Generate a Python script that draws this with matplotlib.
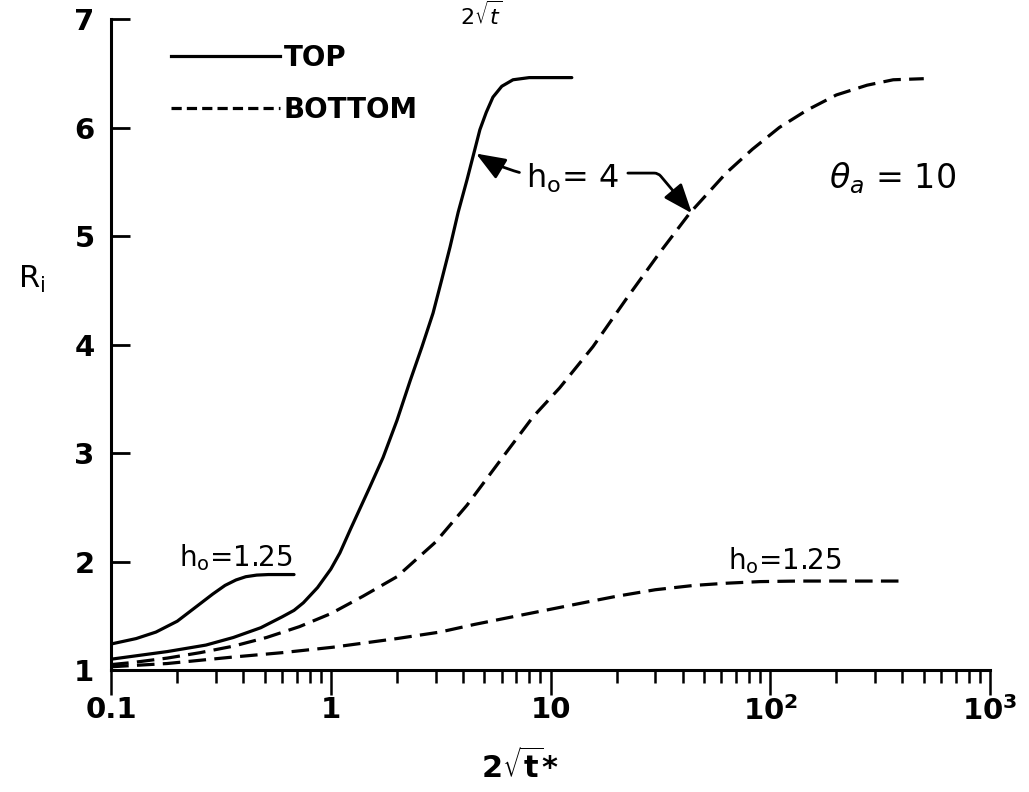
import numpy as np
import matplotlib
matplotlib.use("Agg")
import matplotlib.pyplot as plt
from matplotlib.lines import Line2D
import matplotlib.ticker as mticker

# ── Data ─────────────────────────────────────────────────────────────────────

# TOP surface, h_o = 1.25
top_125_x = [0.1, 0.13, 0.16, 0.2, 0.25, 0.29, 0.33, 0.37, 0.41, 0.46, 0.52, 0.6, 0.68]
top_125_r = [1.24, 1.29, 1.35, 1.45, 1.60, 1.70, 1.78, 1.83, 1.86, 1.875, 1.88, 1.88, 1.88]

# TOP surface, h_o = 4
top_4_x = [0.1, 0.18, 0.27, 0.36, 0.48, 0.6, 0.68, 0.75, 0.87, 1.0, 1.1, 1.23, 1.5, 1.73,
           2.0, 2.3, 2.6, 2.92, 3.2, 3.49, 3.8, 4.17, 4.5, 4.77, 5.1, 5.47,
           6.0, 6.75, 8.0, 12.5]
top_4_r = [1.10, 1.17, 1.23, 1.30, 1.39, 1.49, 1.55, 1.62, 1.76, 1.93, 2.08, 2.30, 2.68, 2.96,
           3.30, 3.67, 3.98, 4.29, 4.60, 4.90, 5.22, 5.52, 5.78, 5.98, 6.14, 6.28,
           6.38, 6.44, 6.46, 6.46]

# BOTTOM surface, h_o = 4
bot_4_x = [0.1, 0.126, 0.18, 0.254, 0.36, 0.51, 0.72, 1.0, 1.4, 2.0, 3.0, 4.17,
           6.0, 8.3, 11.0, 15.6, 22.3, 31.5, 43.0, 63.0, 83.0, 110.0, 147.0,
           200.0, 276.0, 363.0, 500.0]
bot_4_r = [1.05, 1.07, 1.11, 1.16, 1.22, 1.30, 1.40, 1.52, 1.68, 1.86, 2.18, 2.52,
           2.95, 3.33, 3.60, 3.98, 4.43, 4.85, 5.21, 5.58, 5.80, 6.00, 6.16,
           6.30, 6.39, 6.44, 6.45]

# BOTTOM surface, h_o = 1.25
bot_125_x = [0.1, 0.18, 0.36, 0.6, 1.02, 2.0, 3.14, 4.5, 6.7, 10.0, 14.1, 20.0,
             30.0, 45.0, 63.0, 90.0, 134.0, 200.0, 300.0, 410.0]
bot_125_r = [1.03, 1.06, 1.12, 1.16, 1.21, 1.29, 1.35, 1.42, 1.49, 1.56, 1.62, 1.68,
             1.74, 1.78, 1.80, 1.815, 1.82, 1.82, 1.82, 1.82]

x_ticks = [0.1, 1, 10, 100, 1000]
x_tick_labels = ["0.1", "1", "10", r"$\mathbf{10^2}$", r"$\mathbf{10^3}$"]
y_ticks = [1, 2, 3, 4, 5, 6, 7]

# arrow targets for the h_o = 4 label
tip_top_4 = (4.58, 5.76)
tip_bot_4 = (44.0, 5.21)

# ── Figure ───────────────────────────────────────────────────────────────────

plt.rcParams["font.family"] = "DejaVu Sans"
plt.rcParams["mathtext.fontset"] = "dejavusans"

fig = plt.figure(figsize=(10.29, 7.92), dpi=100)
ax = fig.add_axes([0.108, 0.154, 0.854, 0.822])

LW = 2.3
DASH = (5.5, 2.6)

ax.plot(top_125_x, top_125_r, color="black", lw=LW, solid_capstyle="round")
ax.plot(top_4_x, top_4_r, color="black", lw=LW, solid_capstyle="round")
ax.plot(bot_4_x, bot_4_r, color="black", lw=LW, dashes=DASH)
ax.plot(bot_125_x, bot_125_r, color="black", lw=LW, dashes=DASH)

ax.set_xscale("log")
ax.set_xlim(0.1, 1000)
ax.set_ylim(1, 7)

for side in ("top", "right"):
    ax.spines[side].set_visible(False)
for side in ("left", "bottom"):
    ax.spines[side].set_linewidth(2.2)

ax.set_xticks(x_ticks)
ax.xaxis.set_major_formatter(mticker.FixedFormatter(x_tick_labels))
ax.xaxis.set_minor_locator(mticker.LogLocator(base=10, subs=np.arange(2, 10)))
ax.xaxis.set_minor_formatter(mticker.NullFormatter())
ax.tick_params(axis="x", which="major", direction="out", length=18, width=1.8,
               pad=1, labelsize=21)
ax.tick_params(axis="x", which="minor", direction="out", length=9, width=1.8)

ax.set_yticks(y_ticks)
ax.tick_params(axis="y", which="major", direction="in", length=14, width=2,
               pad=12, labelsize=21)
for lab in ax.get_xticklabels() + ax.get_yticklabels():
    lab.set_fontweight("bold")

ax.set_ylabel(r"$\mathregular{R_i}$", rotation=0, fontsize=22, va="center")
ax.yaxis.set_label_coords(-0.09, 0.60)
ax.set_xlabel(r"$\mathbf{2\sqrt{t}}$" + "*", fontsize=22, fontweight="bold")
ax.xaxis.set_label_coords(0.465, -0.12)

# caption fragment at the very top of the scan
fig.text(0.447, 0.999, r"$2\sqrt{t}$", fontsize=16, va="top")

# legend
handles = [Line2D([], [], color="black", lw=LW),
           Line2D([], [], color="black", lw=LW, dashes=(3.2, 1.6))]
ax.legend(handles, ["TOP", "BOTTOM"], loc="upper left", frameon=False,
          bbox_to_anchor=(0.04, 1.0), handlelength=3.9, handletextpad=0.15,
          labelspacing=0.85, prop={"size": 20, "weight": "bold"})

# curve labels
ax.text(0.37, 2.04, r"$\mathregular{h_o}$=1.25", fontsize=20, ha="center",
        va="center")
ax.text(117, 2.01, r"$\mathregular{h_o}$=1.25", fontsize=20, ha="center",
        va="center")
ax.text(362, 5.53, r"$\theta_a$ = 10", fontsize=24, ha="center", va="center")

arrow = dict(arrowstyle="-|>,head_length=0.9,head_width=0.35", color="black",
             lw=2, mutation_scale=20, shrinkA=3, shrinkB=0)
ax.annotate(r"$\mathregular{h_o}$= 4", xy=tip_top_4, xytext=(12.6, 5.53),
            fontsize=23, ha="center", va="center",
            arrowprops=dict(arrow, connectionstyle="arc3,rad=-0.15"))
ax.annotate("", xy=tip_bot_4, xytext=(22.5, 5.58),
            arrowprops=dict(arrow, connectionstyle="angle,angleA=0,angleB=130,rad=4",
                            shrinkA=0))

fig.savefig("out.png", dpi=100)
